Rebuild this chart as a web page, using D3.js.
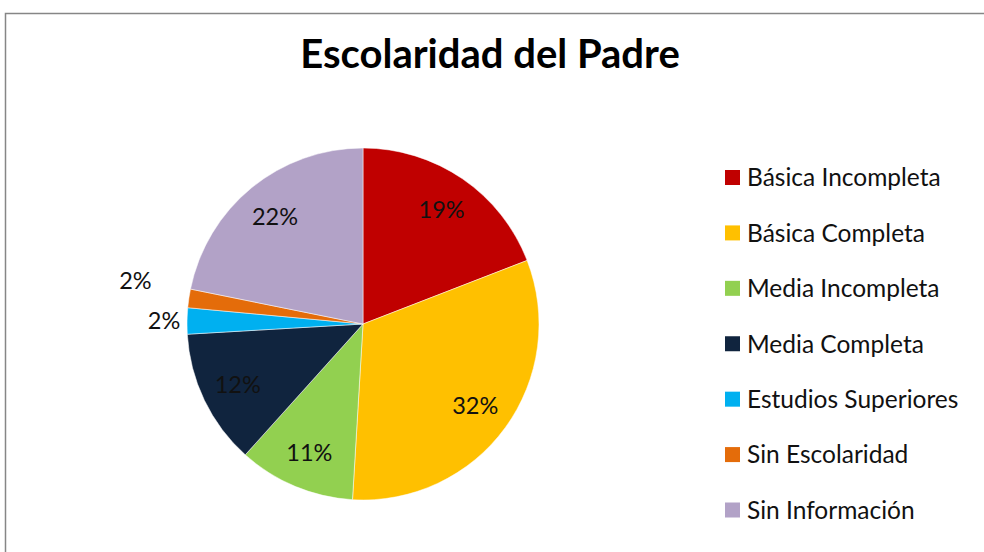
<!DOCTYPE html>
<html>
<head>
<meta charset="utf-8">
<script src="https://cdn.jsdelivr.net/npm/d3@7"></script>
<style>
  body { margin: 0; background: #fff; }
  svg { display: block; font-family: Lato, "Open Sans", sans-serif; }
</style>
</head>
<body>
<div id="chart"></div>
<script>
// Data (percent of fathers by schooling level)
const categories = [
    "Básica Incompleta",
    "Básica Completa",
    "Media Incompleta",
    "Media Completa",
    "Estudios Superiores",
    "Sin Escolaridad",
    "Sin Información",
];
const values = [19.1, 31.8, 10.7, 12.4, 2.4, 1.7, 21.8];
const colors = ["#C00000", "#FFC000", "#92D050", "#10243E", "#00B0F0", "#E46C0A", "#B2A2C7"];

const width = 984,
    height = 552;

const svg = d3
    .select("#chart")
    .append("svg")
    .attr("width", width)
    .attr("height", height);

// Chart frame (runs off the right / bottom of the window)
svg.append("rect")
    .attr("x", 5.5)
    .attr("y", 13.5)
    .attr("width", width + 20)
    .attr("height", height + 20)
    .attr("fill", "none")
    .attr("stroke", "#868686")
    .attr("stroke-width", 1.5);

// Title
svg.append("text")
    .attr("x", 490)
    .attr("y", 68)
    .attr("text-anchor", "middle")
    .style("font-size", "40px")
    .style("font-weight", "bold")
    .text("Escolaridad del Padre");

// Pie
const cx = 363,
    cy = 324,
    radius = 176;

const total = d3.sum(values);
const color = d3.scaleOrdinal().domain(categories).range(colors);

const pie = d3.pie().sort(null).value((d) => d.value);
const arcs = pie(categories.map((c, i) => ({ name: c, value: values[i] })));

const arc = d3.arc().innerRadius(0).outerRadius(radius);
const labelArc = d3.arc().innerRadius(139).outerRadius(139);

const g = svg.append("g").attr("transform", `translate(${cx},${cy})`);

g.selectAll("path")
    .data(arcs)
    .enter()
    .append("path")
    .attr("d", arc)
    .attr("fill", (d) => color(d.data.name))
    .attr("stroke", "#fff")
    .attr("stroke-width", 0.5);

// Label positions: inside for big slices, outside for small ones
let prevY = null,
    k = 0;
const labels = arcs.map((d) => {
    const pct = (d.value / total) * 100;
    const text = Math.round(pct) + "%";
    if (pct >= 5) {
        prevY = null;
        k = 0;
        const [x, y] = labelArc.centroid(d);
        return { x, y, text };
    }
    const a = (d.startAngle + d.endAngle) / 2;
    const r = 199 + 31 * k;
    let x = r * Math.sin(a),
        y = -r * Math.cos(a);
    if (prevY !== null && prevY - y < 40) y = prevY - 40;
    prevY = y;
    k++;
    return { x, y, text };
});

g.selectAll(".lbl")
    .data(labels)
    .enter()
    .append("text")
    .attr("class", "lbl")
    .attr("x", (d) => d.x)
    .attr("y", (d) => d.y)
    .attr("dy", "0.36em")
    .attr("text-anchor", "middle")
    .style("font-size", "23.5px")
    .style("fill", "#111")
    .text((d) => d.text);

// Legend
const legendY = d3
    .scalePoint()
    .domain(categories)
    .range([177.5, 510]);

const legend = svg
    .selectAll(".legend")
    .data(categories)
    .enter()
    .append("g")
    .attr("class", "legend")
    .attr("transform", (d) => `translate(725,${legendY(d)})`);

legend.append("rect")
    .attr("x", 0)
    .attr("y", -7.5)
    .attr("width", 15)
    .attr("height", 15)
    .attr("fill", (d) => color(d));

legend.append("text")
    .attr("x", 22)
    .attr("dy", "0.36em")
    .style("font-size", "24.5px")
    .style("fill", "#111")
    .text((d) => d);
</script>
</body>
</html>
